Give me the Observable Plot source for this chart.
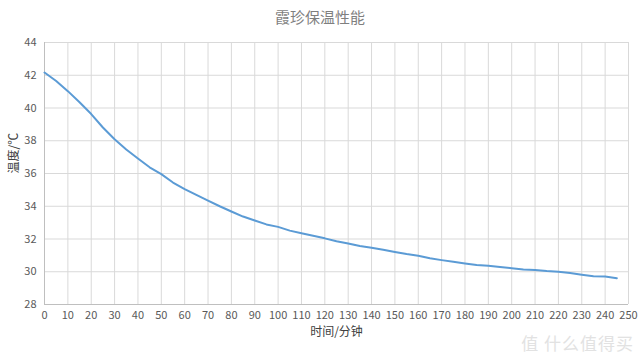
<!DOCTYPE html>
<html><head><meta charset="utf-8">
<script src="https://cdn.jsdelivr.net/npm/d3@7"></script>
<script src="https://cdn.jsdelivr.net/npm/@observablehq/plot@0.6"></script>
<style>
body{margin:0;background:#fff;width:640px;height:358px;overflow:hidden;position:relative;font-family:"Noto Sans CJK SC",sans-serif}
#title{height:32px;line-height:34px;text-align:center;font-size:15px;color:#7f7f7f}
#wm{position:absolute;right:6px;bottom:3px;font-size:17px;color:#e2e2e2;letter-spacing:1px}
</style></head><body>
<div id="title">霞珍保温性能</div>
<div id="chart"></div>
<div id="wm">值 什么值得买</div>
<script>
const minutes = [0,5,10,15,20,25,30,35,40,45,50,55,60,65,70,75,80,85,90,95,100,105,110,115,120,125,130,135,140,145,150,155,160,165,170,175,180,185,190,195,200,205,210,215,220,225,230,235,240,245];
const temps = [42.17,41.65,41.03,40.35,39.63,38.81,38.09,37.47,36.92,36.38,35.96,35.45,35.05,34.69,34.34,34.0,33.68,33.37,33.13,32.89,32.74,32.51,32.35,32.2,32.04,31.86,31.73,31.57,31.47,31.35,31.21,31.08,30.98,30.82,30.71,30.61,30.51,30.41,30.37,30.29,30.22,30.14,30.1,30.04,30.0,29.92,29.82,29.73,29.71,29.61];
const xTicks = [0,10,20,30,40,50,60,70,80,90,100,110,120,130,140,150,160,170,180,190,200,210,220,230,240,250];
const yTicks = [28,30,32,34,36,38,40,42,44];
const xLabel = "时间/分钟";
const yLabel = "温度/℃";

const data = minutes.map((m, i) => ({m, t: temps[i]}));

const chart = Plot.plot({
  width: 640,
  height: 326,
  marginLeft: 44,
  marginRight: 12,
  marginTop: 10,
  marginBottom: 54,
  style: {fontSize: "11px", fontFamily: "'Noto Sans CJK SC', sans-serif", color: "#595959", background: "#fff"},
  x: {domain: [0, 250]},
  y: {domain: [28, 44]},
  marks: [
    Plot.ruleX(xTicks, {stroke: "#d9d9d9", strokeWidth: 1, strokeOpacity: 1}),
    Plot.ruleY(yTicks, {stroke: "#d9d9d9", strokeWidth: 1, strokeOpacity: 1}),
    Plot.ruleY([28], {stroke: "#bfbfbf", strokeWidth: 1}),
    Plot.ruleX([0], {stroke: "#bfbfbf", strokeWidth: 1}),
    Plot.line(data, {x: "m", y: "t", stroke: "#5b9bd5", strokeWidth: 2}),
    Plot.axisX(xTicks, {tickSize: 0, tickPadding: 7, label: null, fill: "#595959"}),
    Plot.axisY(yTicks, {tickSize: 0, tickPadding: 8, label: null, fill: "#595959"}),
    Plot.text([xLabel], {frameAnchor: "bottom", dy: 31, fontSize: 12, fill: "#404040"}),
    Plot.text([yLabel], {frameAnchor: "left", dx: -30, rotate: -90, fontSize: 12, fill: "#404040"})
  ]
});
document.getElementById("chart").appendChild(chart);
</script>
</body></html>
